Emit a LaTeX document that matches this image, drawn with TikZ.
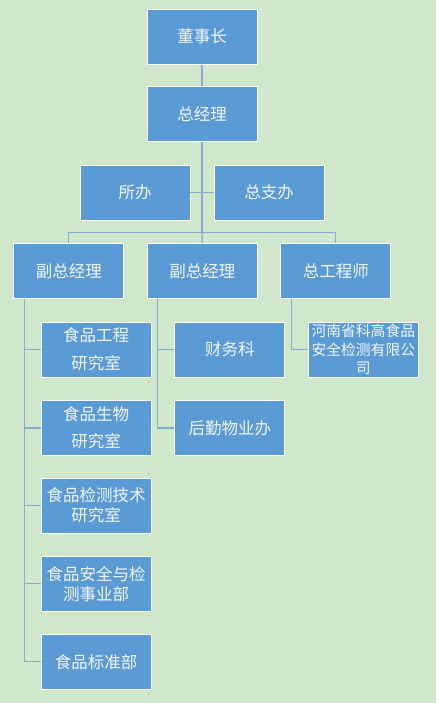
\documentclass[tikz,border=0pt]{standalone}
\usepackage{fontspec}
\setmainfont{Noto Sans CJK SC}
\definecolor{bgc}{RGB}{208,231,204}
\definecolor{boxc}{RGB}{91,155,213}
\definecolor{linec}{RGB}{128,174,204}
\definecolor{txtc}{RGB}{242,246,250}
\begin{document}
\begin{tikzpicture}[x=1pt,y=-1pt,
  box/.style={rectangle, fill=boxc, draw=white, line width=0.9pt, minimum width=110pt, minimum height=55pt, inner sep=1pt, text=txtc, align=center, font=\fontsize{16.5}{20}\selectfont},
  conn/.style={draw=linec, line width=1.3pt}]
\fill[bgc] (0,0) rectangle (436,703);
\useasboundingbox (0,0) rectangle (436,703);
% top
\node[box] (chair) at (202,36.7) {董事长};
\node[box] (gm) at (202,114.3) {总经理};
\node[box] (suo) at (135,192.5) {所办};
\node[box] (zhi) at (269,192.5) {总支办};
\node[box] (vp1) at (68.8,270.8) {副总经理};
\node[box] (vp2) at (202.3,270.8) {副总经理};
\node[box] (ce) at (335.8,270.8) {总工程师};
% left children
\node[box] (c1) at (96,349.5) {食品工程\\[8pt]研究室};
\node[box] (c2) at (96,428) {食品生物\\[7pt]研究室};
\node[box] (c3) at (96,505.5) {食品检测技术\\研究室};
\node[box] (c4) at (96,583.7) {食品安全与检\\测事业部};
\node[box] (c5) at (96,661.8) {食品标准部};
% middle children
\node[box] (m1) at (229.8,349.5) {财务科};
\node[box] (m2) at (229.8,428) {后勤物业办};
% right child
\node[box, font=\fontsize{14.8}{18.3}\selectfont] (h1) at (363.3,349.5) {河南省科高食品\\安全检测有限公\\司};
% connectors
\coordinate (bus) at (202,232.3);
\draw[conn] (chair) -- (gm);
\draw[conn] (gm.south) -- (bus);
\draw[conn] (suo) -- (zhi);
\draw[conn] (vp1.north) |- (bus) -| (ce.north);
\draw[conn] (bus) -- (vp2.north);
\foreach \c in {c1,c2,c3,c4,c5}
  \draw[conn] ([xshift=11.4pt]vp1.south west) |- (\c.west);
\foreach \c in {m1,m2}
  \draw[conn] ([xshift=10.4pt]vp2.south west) |- (\c.west);
\draw[conn] ([xshift=11pt]ce.south west) |- (h1.west);
\end{tikzpicture}
\end{document}
